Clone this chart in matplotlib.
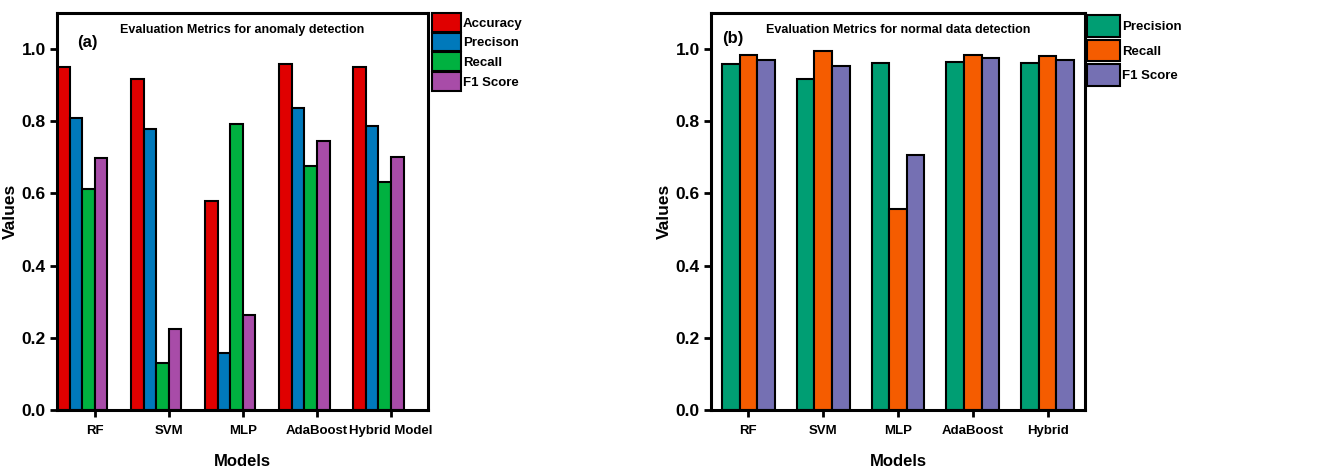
import numpy as np
import matplotlib
matplotlib.use("Agg")
import matplotlib.pyplot as plt

plt.rcParams['font.family'] = ['Liberation Sans Narrow', 'Liberation Sans', 'DejaVu Sans']
plt.rcParams['font.weight'] = 'bold'

# data (a) anomaly detection
models_a = ['RF', 'SVM', 'MLP', 'AdaBoost', 'Hybrid Model']
accuracy_a = [0.951, 0.916, 0.580, 0.958, 0.950]
precision_a = [0.810, 0.778, 0.157, 0.836, 0.787]
recall_a = [0.612, 0.131, 0.792, 0.676, 0.631]
f1_a = [0.697, 0.224, 0.262, 0.746, 0.701]
labels_a = ['Accuracy', 'Precison', 'Recall', 'F1 Score']
colors_a = ['#e00000', '#0079bb', '#00b140', '#a84ca8']

# data (b) normal data detection
models_b = ['RF', 'SVM', 'MLP', 'AdaBoost', 'Hybrid']
precision_b = [0.958, 0.916, 0.962, 0.965, 0.961]
recall_b = [0.983, 0.994, 0.557, 0.985, 0.981]
f1_b = [0.970, 0.954, 0.706, 0.975, 0.970]
labels_b = ['Precision', 'Recall', 'F1 Score']
colors_b = ['#009e73', '#f55c00', '#7570b3']

fig = plt.figure(figsize=(13.43, 4.73), dpi=100)
ax1 = fig.add_axes([57/1343, 63/473, 371/1343, 397/473])
ax2 = fig.add_axes([711/1343, 63/473, 374/1343, 397/473])


def style_axes(ax, names, title, tag, tag_x, tag_y):
    ax.set_ylim(0, 1.1)
    ax.set_yticks([0.0, 0.2, 0.4, 0.6, 0.8, 1.0])
    ax.set_yticklabels(['0.0', '0.2', '0.4', '0.6', '0.8', '1.0'])
    ax.set_xticks(np.arange(len(names)))
    ax.set_xticklabels(names)
    ax.tick_params(axis='y', labelsize=12.5, length=5, width=2, direction='out', pad=3)
    ax.tick_params(axis='x', labelsize=9.5, length=5, width=2, direction='out', pad=6)
    for lab in ax.get_xticklabels() + ax.get_yticklabels():
        lab.set_fontweight('bold')
    for s in ax.spines.values():
        s.set_linewidth(2.2)
    ax.set_xlabel('Models', fontsize=12, fontweight='bold', labelpad=12)
    ax.set_ylabel('Values', fontsize=12.5, fontweight='bold', labelpad=3)
    ax.text(0.5, 0.950, title, transform=ax.transAxes, ha='center', va='baseline',
            fontsize=9, fontweight='bold')
    ax.text(tag_x, tag_y, tag, transform=ax.transAxes, ha='left', va='top',
            fontsize=12, fontweight='bold')


# panel (a): 4 bars, tick between 3rd and 4th
x = np.arange(len(models_a))
w = 0.17
series_a = [accuracy_a, precision_a, recall_a, f1_a]
for k, (vals, lab, c) in enumerate(zip(series_a, labels_a, colors_a)):
    ax1.bar(x + (k - 2.5) * w, vals, w, color=c, edgecolor='black', linewidth=1.5, label=lab)
ax1.set_xlim(-3 * w, 4.5)
style_axes(ax1, models_a, 'Evaluation Metrics for anomaly detection', '(a)', 0.055, 0.945)
ax1.legend(loc='upper left', bbox_to_anchor=(1.011, 1.0), frameon=False, fontsize=9.5,
           handlelength=2.2, handleheight=1.8, labelspacing=0.08, handletextpad=0.15,
           borderaxespad=0, borderpad=0)

# panel (b): 3 bars centred on tick
x = np.arange(len(models_b))
w = 0.235
series_b = [precision_b, recall_b, f1_b]
for k, (vals, lab, c) in enumerate(zip(series_b, labels_b, colors_b)):
    ax2.bar(x + (k - 1) * w, vals, w, color=c, edgecolor='black', linewidth=1.5, label=lab)
ax2.set_xlim(-0.5, 4.5)
style_axes(ax2, models_b, 'Evaluation Metrics for normal data detection', '(b)', 0.03, 0.955)
ax2.legend(loc='upper left', bbox_to_anchor=(1.005, 0.995), frameon=False, fontsize=9.5,
           handlelength=2.5, handleheight=2.15, labelspacing=0.22, handletextpad=0.2,
           borderaxespad=0, borderpad=0)

fig.savefig('out.png', dpi=100)
